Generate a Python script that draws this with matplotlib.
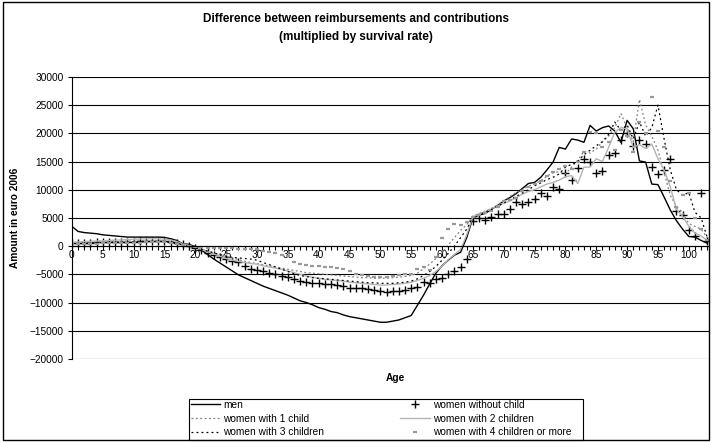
import numpy as np
import matplotlib.pyplot as plt
from matplotlib.patches import Rectangle

plt.rcParams['font.family'] = ['Liberation Sans', 'DejaVu Sans']

# ages 0..103
ages = list(range(104))

men = [3500, 2600, 2400, 2300, 2200, 2000, 1900, 1800, 1700, 1600,
       1600, 1600, 1600, 1600, 1600, 1550, 1300, 1000, 400, 300,
       -100, -700, -1500, -2300, -3000, -3700, -4400, -5100, -5600, -6100,
       -6600, -7100, -7500, -7900, -8300, -8700, -9200, -9700, -10000, -10400,
       -10900, -11200, -11600, -11800, -12200, -12500, -12700, -12900, -13100, -13300,
       -13500, -13500, -13300, -13100, -12700, -12300, -10500, -8700, -6700, -4800,
       -3500, -2500, -1600, -1100, 1500, 5000, 5500, 5800, 6500, 7200,
       8000, 8600, 9300, 10200, 11100, 11300, 12200, 13500, 14900, 17500,
       17200, 19000, 18800, 18400, 21400, 20400, 21000, 21300, 20400, 18400,
       22300, 20800, 15100, 14900, 11000, 10900, 8700, 6400, 4500, 3000,
       1700, 1600, 1000, 500]

women_no_child = [500, 550, 600, 620, 650, 680, 700, 720, 750, 780,
                  800, 820, 850, 870, 880, 880, 800, 600, 300, 0,
                  -300, -700, -1200, -1600, -2000, -2300, -2600, -2900, -3500, -4000,
                  -4200, -4400, -4700, -5000, -5300, -5500, -5800, -6100, -6300, -6500,
                  -6600, -6700, -6800, -6900, -7100, -7400, -7500, -7500, -7600, -7700,
                  -7900, -8100, -8000, -7900, -7700, -7500, -7200, -6400, -6600, -5800,
                  -5600, -5000, -4400, -3700, -2300, 4400, 4900, 4700, 5200, 5700,
                  5700, 6600, 7800, 7500, 7800, 8400, 9400, 8900, 10400, 10200,
                  12900, 11800, 13800, 15500, 15000, 13000, 13400, 16100, 16500, 18800,
                  20000, 17700, 18800, 18100, 14000, 12700, 13500, 15400, 6200, 5500,
                  2800, 1800, 9400, 900]

women_1_child = [600, 650, 700, 720, 750, 780, 800, 820, 850, 870,
                 900, 920, 950, 970, 980, 980, 900, 700, 400, 100,
                 -200, -500, -900, -1200, -1500, -1800, -2100, -2400, -2700, -2900,
                 -3100, -3300, -3500, -3700, -3900, -4100, -4300, -4500, -4700, -4800,
                 -4900, -5000, -5100, -5200, -5300, -5400, -5500, -5600, -5600, -5700,
                 -5700, -5700, -5600, -5500, -5400, -5200, -4800, -4000, -3200, -2200,
                 -1200, 200, 1500, 2800, 3800, 5300, 5800, 6200, 6700, 7300,
                 8000, 8800, 9500, 10000, 10600, 11000, 11600, 12400, 13000, 13200,
                 12800, 14000, 15200, 16800, 16500, 17200, 18500, 19500, 21000, 23500,
                 21000, 18500, 26000, 21500, 19500, 17000, 13000, 9000, 7000, 6000,
                 4000, 3500, 3000, 1500]

women_2_children = [700, 750, 800, 850, 900, 950, 1000, 1050, 1100, 1150,
                    1200, 1250, 1300, 1300, 1300, 1250, 1100, 800, 400, 100,
                    -200, -600, -1000, -1400, -1800, -2200, -2500, -2700, -2900, -3100,
                    -3200, -3500, -3700, -3900, -4100, -4400, -4700, -5000, -5300, -5500,
                    -5700, -5900, -6000, -6100, -6200, -6400, -6500, -6600, -6700, -6800,
                    -6900, -6900, -6800, -6700, -6600, -6400, -6100, -5700, -5200, -4500,
                    -3600, -2400, -1500, -600, 2000, 5200, 5700, 6100, 6600, 7100,
                    7600, 8000, 8600, 9200, 9700, 10000, 10500, 11000, 11300, 11700,
                    12300, 12500, 11100, 14000, 14000, 15500, 15000, 17500, 20200, 21000,
                    20800, 17500, 18000, 17300, 18100, 15500, 13500, 10500, 6500, 5300,
                    3500, 2300, 1800, 1000]

women_3_children = [400, 450, 500, 550, 600, 620, 650, 680, 700, 720,
                    750, 770, 800, 820, 830, 830, 750, 550, 300, 0,
                    -300, -600, -900, -1200, -1500, -1800, -2000, -2100, -2200, -2300,
                    -2500, -2900, -3300, -3700, -4100, -4500, -4900, -5200, -5400, -5600,
                    -5700, -5800, -5900, -6000, -6100, -6200, -6300, -6400, -6500, -6500,
                    -6600, -6600, -6600, -6500, -6400, -6200, -5800, -5200, -4500, -3600,
                    -2500, -1300, 0, 1500, 3000, 5100, 5600, 6000, 6500, 7100,
                    7600, 8200, 8800, 9400, 10000, 10700, 11200, 11800, 12200, 12800,
                    14000, 14500, 15000, 16200, 17000, 17800, 18500, 19800, 22000, 20500,
                    21500, 19000, 22000, 19500, 21000, 25000, 19000, 13500, 10000, 9000,
                    9500, 6000, 5000, 1500]

women_4_children = [300, 350, 400, 420, 450, 480, 500, 520, 550, 570,
                    600, 620, 650, 670, 680, 680, 600, 400, 200, 0,
                    -100, -200, -300, -300, -350, -400, -400, -450, -500, -500,
                    -600, -800, -1000, -1200, -1500, -1800, -2800, -3100, -3300, -3500,
                    -3600, -3700, -3700, -3900, -4100, -4500, -4900, -5100, -5300, -5400,
                    -5400, -5400, -5300, -5200, -5000, -4900, -4000, -3700, -4200, -1900,
                    1400, 3100, 4000, 3700, 4300, 5100, 5500, 5800, 6200, 7000,
                    8000, 8200, 8500, 9800, 10500, 11000, 11600, 12500, 13200, 13700,
                    14200, 13600, 15000, 16700, 20200, 20000, 17500, 18500, 17000, 20500,
                    19500, 16700, 22000, 20000, 26400, 20400, 17500, 11500, 7000, 9000,
                    9400, 5000, 3000, 1000]

fig = plt.figure(figsize=(7.12, 4.42), dpi=100)
ax = fig.add_axes([0.101, 0.188, 0.895, 0.638])

l_men, = ax.plot(ages, men, color='black', lw=1.0, label='men')
l_nc, = ax.plot(ages, women_no_child, ls='none', marker='+', ms=5.5, mew=1.0,
                color='black', label='women without child')
l_1, = ax.plot(ages, women_1_child, color='#808080', lw=0.9, dashes=(1.5, 2),
               label='women with 1 child')
l_2, = ax.plot(ages, women_2_children, color='#b4b4b4', lw=1.0,
               label='women with 2 children')
l_3, = ax.plot(ages, women_3_children, color='black', lw=0.9, dashes=(1.5, 2.5),
               label='women with 3 children')
l_4, = ax.plot(ages, women_4_children, ls='none', marker='_', ms=3.2, mew=1.6,
               color='#999999', label='women with 4 children or more')

ax.set_xlim(0, 103.3)
ax.set_ylim(-20000, 30000)
ax.set_yticks(np.arange(-20000, 30001, 5000))
ax.yaxis.grid(True, color='black', lw=0.8)
ax.set_axisbelow(True)

# category axis sits on y = 0
ax.spines['bottom'].set_position(('data', 0))
ax.spines['bottom'].set_linewidth(0.8)
ax.spines['left'].set_linewidth(0.8)
ax.spines['top'].set_visible(False)
ax.spines['right'].set_visible(False)
ax.set_xticks(np.arange(0, 101, 5))
ax.set_xticks(np.arange(0, 104, 1), minor=True)
ax.tick_params(axis='x', which='major', length=3, width=0.8, labelsize=7.3, pad=0)
ax.tick_params(axis='x', which='minor', length=3, width=0.8)
ax.tick_params(axis='y', length=3, width=0.8, labelsize=7.3, pad=3)

fig.text(0.5, 0.957, 'Difference between reimbursements and contributions',
         ha='center', va='center', fontsize=8.5, fontweight='bold')
fig.text(0.5, 0.917, '(multiplied by survival rate)',
         ha='center', va='center', fontsize=8.5, fontweight='bold')
fig.text(0.021, 0.507, 'Amount in euro 2006', rotation=90, ha='center', va='center',
         fontsize=7.3, fontweight='bold')
fig.text(0.556, 0.145, 'Age', ha='center', va='center', fontsize=7.3, fontweight='bold')

handles = [l_men, l_1, l_3, l_nc, l_2, l_4]
fig.legend(handles, [h.get_label() for h in handles], ncol=2, loc='upper left',
           bbox_to_anchor=(0.268, 0.095), frameon=False, fontsize=7.3, numpoints=1,
           handlelength=2.9, handletextpad=0.3, labelspacing=0.35,
           columnspacing=7.5, borderpad=0.0, borderaxespad=0)

fig.patches.append(Rectangle((0.2654, 0.0045), 0.5534, 0.0928, transform=fig.transFigure,
                             fill=False, edgecolor='black', lw=0.8))
fig.patches.append(Rectangle((0.004, 0.004), 0.992, 0.992, transform=fig.transFigure,
                             fill=False, edgecolor='black', lw=1.0))

fig.savefig('out.png', dpi=100)
